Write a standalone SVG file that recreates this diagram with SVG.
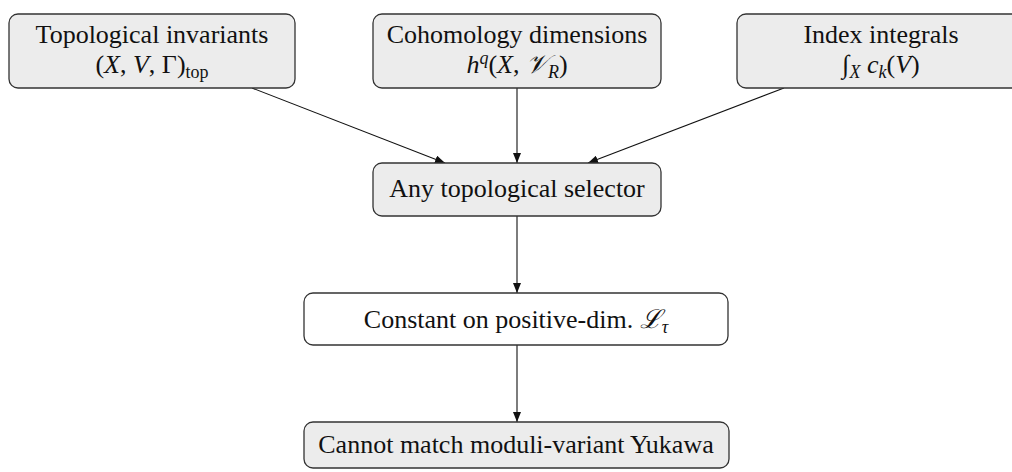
<svg xmlns="http://www.w3.org/2000/svg" width="1012" height="472" viewBox="0 0 1012 472">
<style>
.box{fill:#ececec;stroke:#333;stroke-width:1.3}
.wbox{fill:#ffffff;stroke:#333;stroke-width:1.3}
text{font-family:"Liberation Serif","DejaVu Serif",serif;font-size:26px;fill:#111;text-anchor:middle}
.it{font-style:italic}
.sub{font-size:18px}
.edge{stroke:#111;stroke-width:1.1;fill:none;marker-end:url(#ah)}
</style>
<defs>
<marker id="ah" viewBox="0 0 10 8" refX="10" refY="4" markerWidth="10" markerHeight="8" markerUnits="userSpaceOnUse" orient="auto">
<path d="M0,0 L10,4 L0,8 Z" fill="#111"/>
</marker>
</defs>
<g id="connectors">
<line class="edge" x1="252" y1="88" x2="445" y2="163"/>
<line class="edge" x1="517" y1="88" x2="517" y2="163"/>
<line class="edge" x1="784" y1="88" x2="588" y2="163"/>
<line class="edge" x1="517" y1="216" x2="517" y2="293"/>
<line class="edge" x1="517" y1="345" x2="517" y2="422"/>
</g>
<g id="topo">
<rect class="box" x="9" y="14" width="286" height="74" rx="9"/>
<text x="152" y="43">Topological invariants</text>
<text x="152" y="73">(<tspan class="it">X</tspan>, <tspan class="it">V</tspan>, Γ)<tspan class="sub" dy="5">top</tspan></text>
</g>
<g id="cohom">
<rect class="box" x="373" y="14" width="288" height="74" rx="9"/>
<text x="517" y="43">Cohomology dimensions</text>
<text x="517" y="73"><tspan class="it">h</tspan><tspan class="it sub" dy="-9">q</tspan><tspan dy="9">(</tspan><tspan class="it">X</tspan>, <tspan class="it">𝒱</tspan><tspan class="it sub" dy="5">R</tspan><tspan dy="-5">)</tspan></text>
</g>
<g id="index">
<rect class="box" x="737" y="14" width="288" height="74" rx="9"/>
<text x="881" y="43">Index integrals</text>
<text x="881" y="73">∫<tspan class="it sub" dy="5">X</tspan><tspan dy="-5"> </tspan><tspan class="it">c</tspan><tspan class="it sub" dy="5">k</tspan><tspan dy="-5">(</tspan><tspan class="it">V</tspan>)</text>
</g>
<g id="selector">
<rect class="box" x="373" y="163" width="288" height="53" rx="9"/>
<text x="517" y="197">Any topological selector</text>
</g>
<g id="constant">
<rect class="wbox" x="304" y="293" width="424" height="52" rx="9"/>
<text x="516" y="328">Constant on positive-dim. <tspan class="it">ℒ</tspan><tspan class="it sub" dy="5">τ</tspan></text>
</g>
<g id="cannot">
<rect class="box" x="304" y="422" width="425" height="46" rx="9"/>
<text x="516" y="453">Cannot match moduli-variant Yukawa</text>
</g>
</svg>
